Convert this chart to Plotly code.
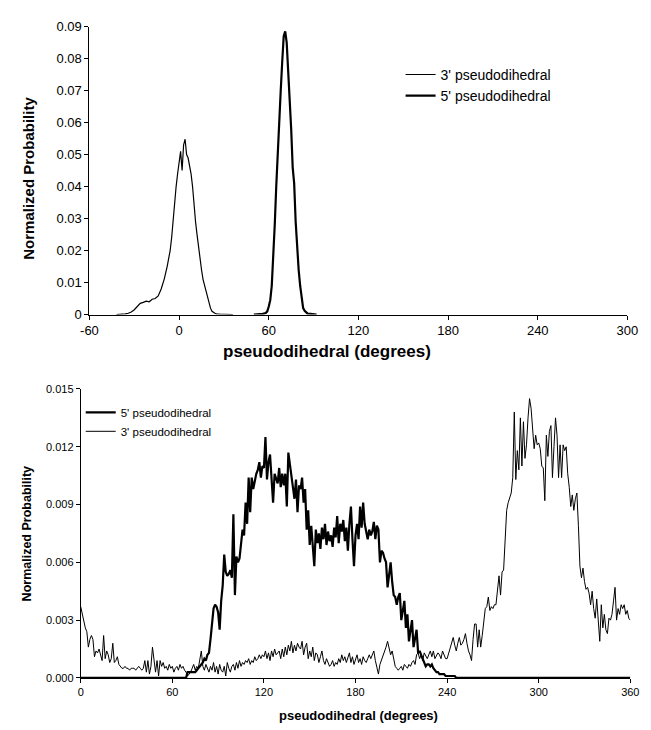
import plotly.graph_objects as go

# ---------------- Top panel data ----------------
TOP_X_3 = [-42, -40, -38, -36, -34, -32, -30, -28, -26, -24, -22, -20, -18, -16, -14, -12, -10,
           -8, -6, -5, -4, -3, -2, -1, 0, 1, 2, 3, 4, 5, 6, 7, 8, 9, 10, 11, 12, 13, 14, 15, 16,
           17, 18, 19, 20, 21, 22, 23, 24, 25, 26, 28, 30, 32, 34, 36]
TOP_Y_3 = [0, 0, 0.0002, 0.0002, 0.0004, 0.0008, 0.0015, 0.0025, 0.0035, 0.0038, 0.0042, 0.0040,
           0.0048, 0.0050, 0.0058, 0.0080, 0.0110, 0.0150, 0.0200, 0.0240, 0.0300, 0.0350, 0.0400,
           0.0440, 0.0480, 0.0510, 0.0450, 0.0530, 0.0548, 0.0500, 0.0490, 0.0470, 0.0440, 0.0400,
           0.0330, 0.0290, 0.0250, 0.0210, 0.0180, 0.0140, 0.0110, 0.0090, 0.0070, 0.0050, 0.0035,
           0.0020, 0.0010, 0.0006, 0.0004, 0.0002, 0.0001, 0.0001, 0.0001, 0, 0.0001, 0]

TOP_X_5 = [50, 52, 54, 56, 58, 59, 60, 61, 62, 63, 64, 65, 66, 67, 68, 69, 70, 71, 72, 73, 74,
           75, 76, 77, 78, 79, 80, 81, 82, 83, 84, 85, 86, 88, 90, 92]
TOP_Y_5 = [0, 0, 0.0001, 0.0002, 0.0005, 0.0010, 0.0025, 0.0045, 0.0090, 0.0170, 0.0280, 0.0400,
           0.0510, 0.0640, 0.0700, 0.0790, 0.0870, 0.0885, 0.0850, 0.0760, 0.0680, 0.0580, 0.0460,
           0.0410, 0.0290, 0.0200, 0.0140, 0.0090, 0.0050, 0.0020, 0.0012, 0.0006, 0.0003, 0.0002,
           0.0001, 0]

TOP_XTICKS = [-60, 0, 60, 120, 180, 240, 300]
TOP_XTICKTEXT = ["-60", "0", "60", "120", "180", "240", "300"]
TOP_YTICKS = [0, 0.01, 0.02, 0.03, 0.04, 0.05, 0.06, 0.07, 0.08, 0.09]

# ---------------- Bottom panel data (1-degree bins, values in units of 1e-4) ----------------
BOT_X = list(range(0, 361))

BOT_5_E4 = [
    0, 0, 0, 0, 0, 0, 0, 0, 0, 0,            # 0
    0, 0, 0, 0, 0, 0, 0, 0, 0, 0,            # 10
    0, 0, 0, 0, 0, 0, 0, 0, 0, 0,            # 20
    0, 0, 0, 0, 0, 0, 0, 0, 0, 0,            # 30
    0, 0, 0, 0, 0, 0, 0, 0, 0, 0,            # 40
    0, 0, 0, 0, 0, 0, 0, 0, 0, 0,            # 50
    0, 0, 0, 0, 0, 0, 0, 0, 0, 0,            # 60
    3, 3, 3, 3, 3, 3, 4, 5, 6, 7,            # 70
    8, 10, 9, 12, 13, 20, 28, 36, 38, 37,    # 80
    34, 25, 40, 48, 64, 55, 53, 54, 56, 52,  # 90
    85, 43, 63, 60, 62, 70, 77, 74, 91, 80,  # 100
    104, 86, 104, 98, 103, 106, 108, 112, 104, 110,  # 110
    109, 125, 103, 112, 116, 101, 91, 106, 104, 101,  # 120
    109, 99, 106, 100, 106, 89, 117, 111, 104, 99,   # 130
    93, 103, 86, 100, 98, 104, 91, 98, 77, 87,       # 140
    69, 79, 66, 58, 77, 70, 75, 67, 78, 72,          # 150
    80, 69, 76, 71, 74, 68, 78, 73, 84, 70,          # 160
    80, 76, 82, 71, 78, 66, 80, 89, 72, 58,          # 170
    74, 80, 72, 89, 78, 91, 80, 76, 72, 77,          # 180
    74, 76, 81, 72, 79, 77, 60, 66, 65, 62,          # 190
    60, 47, 55, 60, 50, 43, 42, 38, 42, 44,          # 200
    30, 36, 40, 26, 33, 19, 25, 30, 16, 22,          # 210
    25, 13, 14, 12, 10, 9, 6, 7, 7, 6,               # 220
    7, 5, 4, 3, 3, 2, 2, 2, 2, 1,                    # 230
    1, 1, 1, 1, 1, 1, 0, 0, 0, 0,                    # 240
    0, 0, 0, 0, 0, 0, 0, 0, 0, 0,                    # 250
    0, 0, 0, 0, 0, 0, 0, 0, 0, 0,                    # 260
    0, 0, 0, 0, 0, 0, 0, 0, 0, 0,                    # 270
    0, 0, 0, 0, 0, 0, 0, 0, 0, 0,                    # 280
    0, 0, 0, 0, 0, 0, 0, 0, 0, 0,                    # 290
    0, 0, 0, 0, 0, 0, 0, 0, 0, 0,                    # 300
    0, 0, 0, 0, 0, 0, 0, 0, 0, 0,                    # 310
    0, 0, 0, 0, 0, 0, 0, 0, 0, 0,                    # 320
    0, 0, 0, 0, 0, 0, 0, 0, 0, 0,                    # 330
    0, 0, 0, 0, 0, 0, 0, 0, 0, 0,                    # 340
    0, 0, 0, 0, 0, 0, 0, 0, 0, 0,                    # 350
    0,                                               # 360
]

BOT_3_E4 = [
    37, 33, 30, 26, 24, 16, 20, 22, 20, 11,          # 0
    14, 13, 15, 12, 9, 22, 10, 14, 12, 8,            # 10
    10, 18, 8, 9, 11, 7, 6, 5, 5, 6,                 # 20
    5, 5, 4, 5, 5, 5, 4, 5, 6, 5,                    # 30
    4, 5, 9, 3, 9, 2, 6, 16, 9, 3,                   # 40
    9, 1, 9, 6, 8, 5, 6, 4, 7, 5,                    # 50
    6, 3, 5, 6, 4, 7, 5, 6, 4, 3,                    # 60
    1, 2, 3, 5, 7, 4, 6, 5, 9, 14,                   # 70
    6, 4, 7, 5, 3, 6, 4, 8, 3, 6,                    # 80
    2, 7, 4, 3, 6, 1, 8, 5, 3, 6,                    # 90
    7, 4, 8, 5, 9, 6, 8, 7, 9, 8,                    # 100
    10, 7, 9, 8, 11, 9, 10, 12, 10, 12,              # 110
    11, 14, 10, 13, 9, 14, 11, 15, 12, 13,           # 120
    14, 10, 15, 11, 16, 12, 17, 14, 19, 13,          # 130
    17, 14, 18, 16, 15, 19, 12, 16, 18, 10,          # 140
    14, 11, 16, 9, 13, 12, 8, 11, 14, 9,             # 150
    7, 10, 8, 6, 7, 9, 6, 8, 7, 10,                  # 160
    8, 12, 9, 11, 8, 10, 13, 8, 11, 7,               # 170
    9, 12, 8, 10, 7, 11, 9, 8, 10, 12,               # 180
    10, 12, 14, 9, 6, 2, 7, 9, 12, 14,               # 190
    16, 19, 15, 12, 14, 9, 6, 5, 4, 5,               # 200
    6, 4, 7, 6, 5, 7, 6, 8, 9, 7,                    # 210
    12, 13, 10, 12, 9, 13, 11, 10, 12, 14,           # 220
    11, 14, 10, 12, 13, 12, 10, 14, 12, 10,          # 230
    10, 13, 16, 18, 21, 17, 14, 18, 21, 17,          # 240
    18, 20, 23, 18, 14, 12, 9, 20, 28, 28,           # 250
    16, 25, 16, 22, 28, 36, 37, 42, 35, 37,          # 260
    36, 38, 38, 45, 53, 43, 55, 56, 74, 87,          # 270
    91, 94, 96, 104, 138, 103, 118, 108, 135, 110,   # 280
    133, 114, 121, 135, 145, 140, 130, 119, 126, 121,  # 290
    122, 119, 110, 109, 92, 126, 115, 128, 131, 104,   # 300
    120, 135, 126, 104, 121, 104, 121, 118, 120, 106,  # 310
    99, 89, 95, 87, 93, 96, 79, 58, 52, 57,          # 320
    50, 46, 47, 44, 38, 45, 36, 31, 41, 28,          # 330
    19, 38, 26, 33, 25, 23, 31, 30, 33, 40,          # 340
    47, 30, 36, 33, 38, 36, 38, 33, 35, 31,          # 350
    30,                                              # 360
]

BOT_Y_5 = [v / 10000 for v in BOT_5_E4]
BOT_Y_3 = [v / 10000 for v in BOT_3_E4]

BOT_XTICKS = [0, 60, 120, 180, 240, 300, 360]
BOT_YTICKS = [0, 0.003, 0.006, 0.009, 0.012, 0.015]

LBL_3 = "3' pseudodihedral"
LBL_5 = "5' pseudodihedral"
XTITLE = "pseudodihedral (degrees)"
YTITLE = "Normalized Probability"

FONT = "Liberation Sans, Arial, sans-serif"
W, H = 651, 730


def px(x):
    return x / W


def py(y):
    return (H - y) / H


fig = go.Figure()

# Top panel
fig.add_trace(go.Scatter(x=TOP_X_3, y=TOP_Y_3, mode="lines", name=LBL_3,
                         line=dict(color="black", width=1.2), xaxis="x", yaxis="y",
                         legend="legend"))
fig.add_trace(go.Scatter(x=TOP_X_5, y=TOP_Y_5, mode="lines", name=LBL_5,
                         line=dict(color="black", width=2.2), xaxis="x", yaxis="y",
                         legend="legend"))

# Bottom panel
fig.add_trace(go.Scatter(x=BOT_X, y=BOT_Y_3, mode="lines", name=LBL_3,
                         line=dict(color="black", width=1.0), xaxis="x2", yaxis="y2",
                         legend="legend2"))
fig.add_trace(go.Scatter(x=BOT_X, y=BOT_Y_5, mode="lines", name=LBL_5,
                         line=dict(color="black", width=2.2), xaxis="x2", yaxis="y2",
                         legend="legend2"))

axis_common = dict(showgrid=False, zeroline=False, showline=True, linecolor="black",
                   linewidth=1, ticks="outside", tickcolor="black", ticklen=4,
                   tickwidth=1)

fig.update_layout(
    width=W, height=H,
    margin=dict(l=0, r=0, t=0, b=0),
    paper_bgcolor="white", plot_bgcolor="white",
    font=dict(family=FONT, color="black"),
    xaxis=dict(domain=[px(83), px(638)], range=[-60, 300], tickvals=TOP_XTICKS,
               ticktext=TOP_XTICKTEXT, anchor="y", tickfont=dict(size=13), **axis_common),
    yaxis=dict(domain=[py(314), py(20)], range=[0, 0.09], tickvals=TOP_YTICKS,
               anchor="x", tickfont=dict(size=13), **axis_common),
    xaxis2=dict(domain=[px(74), px(641)], range=[0, 360], tickvals=BOT_XTICKS,
                anchor="y2", tickfont=dict(size=11), **axis_common),
    yaxis2=dict(domain=[py(685), py(390)], range=[0, 0.015], tickvals=BOT_YTICKS,
                tickformat=".3f", anchor="x2", tickfont=dict(size=11), **axis_common),
    legend=dict(x=px(404), y=py(53), xanchor="left", yanchor="top",
                bgcolor="rgba(0,0,0,0)", font=dict(size=14), itemwidth=30,
                tracegroupgap=0),
    legend2=dict(x=px(74), y=py(399), xanchor="left", yanchor="top",
                 bgcolor="rgba(0,0,0,0)", font=dict(size=11.5), itemwidth=30,
                 traceorder="reversed"),
    showlegend=True,
)

ann = dict(xref="paper", yref="paper", showarrow=False, xanchor="center", yanchor="middle")
fig.add_annotation(text="<b>" + XTITLE + "</b>", x=px(328), y=py(352),
                   font=dict(size=17), **ann)
fig.add_annotation(text="<b>" + YTITLE + "</b>", x=px(20), y=py(175), textangle=-90,
                   font=dict(size=15), **ann)
fig.add_annotation(text="<b>" + XTITLE + "</b>", x=px(361), y=py(723),
                   font=dict(size=13), **ann)
fig.add_annotation(text="<b>" + YTITLE + "</b>", x=px(18), y=py(538), textangle=-90,
                   font=dict(size=12.5), **ann)

fig.write_html("out.html")
